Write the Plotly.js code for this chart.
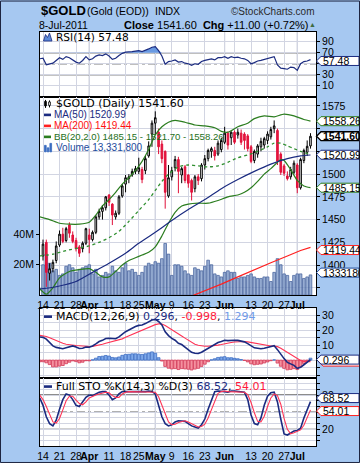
<!DOCTYPE html>
<html>
<head>
<meta charset="utf-8">
<script src="https://cdn.plot.ly/plotly-3.0.1.min.js"></script>
<style>
html,body{margin:0;padding:0;background:#a6c8f1;overflow:hidden;}
#chart{width:360px;height:463px;}
</style>
</head>
<body>
<div id="chart"></div>
<script>
// ---------- DATA ----------
const dates = ['2011-03-11','2011-03-14','2011-03-15','2011-03-16','2011-03-17','2011-03-18','2011-03-21','2011-03-22','2011-03-23','2011-03-24','2011-03-25','2011-03-28','2011-03-29','2011-03-30','2011-03-31',
'2011-04-01','2011-04-04','2011-04-05','2011-04-06','2011-04-07','2011-04-08','2011-04-11','2011-04-12','2011-04-13','2011-04-14','2011-04-15','2011-04-18','2011-04-19','2011-04-20','2011-04-21','2011-04-25','2011-04-26','2011-04-27','2011-04-28','2011-04-29',
'2011-05-02','2011-05-03','2011-05-04','2011-05-05','2011-05-06','2011-05-09','2011-05-10','2011-05-11','2011-05-12','2011-05-13','2011-05-16','2011-05-17','2011-05-18','2011-05-19','2011-05-20','2011-05-23','2011-05-24','2011-05-25','2011-05-26','2011-05-27','2011-05-31',
'2011-06-01','2011-06-02','2011-06-03','2011-06-06','2011-06-07','2011-06-08','2011-06-09','2011-06-10','2011-06-13','2011-06-14','2011-06-15','2011-06-16','2011-06-17','2011-06-20','2011-06-21','2011-06-22','2011-06-23','2011-06-24','2011-06-27','2011-06-28','2011-06-29','2011-06-30',
'2011-07-01','2011-07-05','2011-07-06','2011-07-07','2011-07-08'];
const candleDates = dates.slice(1);

const openP = [1410,1425,1391,1396,1405,1422,1434,1427,1444,1433,
1427,1420,1418,1424,1433,1428,1436,1453,1459,1463,
1477,1467,1453,1457,1476,1489,1495,1499,1503,1503,
1505,1504,1520,1544,1556,1546,1533,1525,1476,1497,
1507,1516,1499,1508,1499,1493,1484,1497,1495,1510,
1517,1525,1526,1522,1527,1535,1545,1540,1546,1543,
1545,1544,1542,1530,1515,1522,1530,1532,1537,1541,
1550,1548,1522,1509,1498,1497,1502,1510,1485,1515,
1524,1531];
const highP = [1428,1428,1402,1406,1426,1438,1441,1442,1447,1437,
1430,1422,1426,1441,1440,1438,1455,1462,1466,1476,
1478,1468,1460,1477,1489,1499,1500,1506,1509,1518,
1508,1520,1536,1559,1569,1550,1537,1526,1510,1508,
1520,1519,1508,1510,1500,1495,1499,1500,1512,1521,
1528,1530,1530,1537,1540,1552,1547,1547,1548,1550,
1549,1546,1544,1532,1527,1533,1540,1541,1547,1552,
1559,1550,1524,1511,1503,1508,1515,1512,1518,1528,
1537,1545];
const lowP = [1405,1376,1383,1392,1402,1420,1424,1425,1430,1424,
1415,1409,1414,1422,1413,1426,1434,1450,1450,1460,
1465,1444,1450,1455,1474,1480,1490,1497,1500,1500,
1490,1500,1518,1530,1543,1522,1512,1462,1474,1493,
1503,1479,1490,1490,1485,1471,1480,1488,1492,1505,
1514,1518,1515,1520,1524,1533,1527,1532,1533,1539,
1532,1527,1525,1512,1512,1518,1525,1528,1533,1538,
1545,1510,1499,1498,1493,1494,1500,1479,1483,1512,
1520,1528];
const closeP = [1423,1392,1396,1403,1421,1434,1426,1440,1435,1426,
1418,1413,1424,1440,1428,1436,1453,1459,1463,1475,
1469,1455,1457,1475,1487,1496,1497,1503,1506,1507,
1494,1517,1531,1556,1562,1530,1517,1480,1496,1504,
1516,1503,1506,1493,1490,1480,1497,1493,1510,1517,
1526,1528,1520,1534,1537,1545,1532,1546,1535,1546,
1535,1537,1528,1514,1525,1531,1536,1539,1544,1549,
1553,1514,1502,1501,1495,1505,1512,1485,1516,1526,
1530.6,1541.6];
const volumeM = [20,27,21,16,17,13,14,19,20,18,
15,17,18,19,20,14,17,12,13,15,
14,19,16,15,18,21,16,17,15,13,
15,19,21,20,22,21,24,34,27,13,
20,20,19,16,14,13,18,17,16,19,
23,20,14,13,12,15,16,15,15,11,
12,12,13,14,12,11,11,12,12,9,
15,24,20,14,13,9,13,14,14,11,
12,13.3318];

const ma50Dates = ['2011-03-11','2011-03-14','2011-03-21','2011-03-28','2011-04-01','2011-04-11','2011-04-18','2011-04-25','2011-05-02','2011-05-09','2011-05-16','2011-05-23','2011-05-31','2011-06-07','2011-06-14','2011-06-21','2011-06-28','2011-07-05','2011-07-08'];
const ma50 = [1374,1374,1377,1382,1390,1402,1413,1424,1436,1449,1461,1472,1484,1494,1503,1511,1517,1520,1520.99];
const ma200Dates = ['2011-05-17','2011-05-23','2011-05-31','2011-06-07','2011-06-14','2011-06-21','2011-06-28','2011-07-05','2011-07-08'];
const ma200 = [1366,1371.5,1379,1387,1395,1402.5,1410,1416,1419.44];
const bbUpperDates = ['2011-03-11','2011-03-16','2011-03-21','2011-03-24','2011-03-29','2011-04-01','2011-04-05','2011-04-07','2011-04-11','2011-04-13','2011-04-15','2011-04-19','2011-04-21','2011-04-26','2011-04-28','2011-05-02','2011-05-04','2011-05-06','2011-05-10','2011-05-13','2011-05-18','2011-05-23','2011-05-26','2011-05-31','2011-06-02','2011-06-07','2011-06-10','2011-06-14','2011-06-17','2011-06-22','2011-06-27','2011-06-30','2011-07-06','2011-07-08'];
const bbUpper = [1453,1450,1446,1445,1445,1447,1455,1465,1472,1480,1489,1496,1504,1514,1527,1543,1552,1557,1559,1557,1554,1553,1551,1547,1546,1552,1556,1561,1564,1563,1566,1564,1560,1558.26];
const bbLowerDates = ['2011-03-11','2011-03-15','2011-03-17','2011-03-21','2011-03-24','2011-03-29','2011-04-01','2011-04-05','2011-04-07','2011-04-11','2011-04-13','2011-04-15','2011-04-19','2011-04-21','2011-04-26','2011-04-28','2011-05-02','2011-05-04','2011-05-06','2011-05-10','2011-05-12','2011-05-16','2011-05-19','2011-05-24','2011-05-27','2011-06-02','2011-06-07','2011-06-09','2011-06-13','2011-06-15','2011-06-17','2011-06-21','2011-06-23','2011-06-24','2011-06-27','2011-06-29','2011-07-01','2011-07-06','2011-07-08'];
const bbLower = [1374,1368,1375,1386,1393,1395,1396,1392,1387,1387,1393,1400,1405,1408,1411,1414,1420,1432,1446,1458,1465,1467,1468,1468,1471,1475,1477,1480,1485,1492,1500,1506,1513,1516,1515,1505,1493,1487,1485.15];
const bbMidDates = ['2011-03-11','2011-03-17','2011-03-23','2011-03-29','2011-04-01','2011-04-06','2011-04-11','2011-04-14','2011-04-19','2011-04-25','2011-04-28','2011-05-02','2011-05-04','2011-05-06','2011-05-11','2011-05-16','2011-05-19','2011-05-24','2011-05-27','2011-06-02','2011-06-07','2011-06-10','2011-06-15','2011-06-20','2011-06-22','2011-06-24','2011-06-28','2011-06-30','2011-07-05','2011-07-08'];
const bbMid = [1410,1412,1416,1419,1421,1425,1430,1437,1448,1460,1472,1482,1492,1500,1508,1510,1509,1508,1509,1513,1518,1521,1525,1530,1534,1534,1531,1528,1525,1521.7];

const rsi = [59,60,48,49,51,56,61,58,63,61,
57,53,51,56,63,57,59,64,66,65,
68,64,58,60,65,69,71,71,72,73,
74,72,74,77,80,81,74,64,49,54,
55,57,53,54,51,50,47,50,49,54,
56,58,59,57,61,61,63,60,63,61,
62,60,59,56,50,52,55,56,58,59,
61,63,48,42,41,40,44,43,38,50,
54,55,57.48];
const macd = [15.5,15.2,14,12,9.5,8.5,8,7.6,8.2,8.8,
9.5,8.8,7.8,7.9,8.8,8.6,9.4,10.8,12.4,13.2,
14.4,14.6,14.2,14.3,15.5,17.4,19,20.1,21.4,22.4,
23.2,23.5,24.4,25.4,26.8,27.2,25.8,23.5,18.9,16.4,
14.5,13.3,11.2,10.4,8.8,7.2,5.2,4.6,4.4,5.3,
6.6,8.2,9.6,10.5,11.8,12.5,13.3,13,13.4,13.3,
13.2,12.8,12.2,11,9.3,8.2,7.9,7.6,7.9,8.3,
9,9.6,7,3.8,1,-1.5,-2.6,-3.5,-5.5,-4.8,
-3.1,-1.3,0.296];
const macdSignal = [16.6,16.3,15.8,15,14,13,12,11.2,10.6,10.2,
10,9.8,9.6,9.3,9.2,9.1,9.2,9.5,10,10.6,
11.3,11.9,12.4,12.8,13.4,14.2,15.2,16.2,17.2,18.2,
19.2,20,20.9,21.8,22.8,23.7,24.2,24.1,23.1,21.8,
20.4,19,17.5,16.1,14.7,13.3,11.8,10.6,9.9,9.5,
9.3,9.3,9.4,9.6,10,10.4,11,11.4,11.8,12.1,
12.3,12.4,12.4,12.2,11.8,11.3,10.7,10.2,9.8,9.5,
9.4,9.4,9,7.9,6.5,5,3.6,2.2,0.8,-0.3,
-0.9,-1.1,-0.998];
const macdHist = [-1.1,-1.1,-1.8,-3,-4.5,-4.5,-4,-3.6,-2.4,-1.4,
-0.5,-1,-1.8,-1.4,-0.4,-0.5,0.2,1.3,2.4,2.6,
3.1,2.7,1.8,1.5,2.1,3.2,3.8,3.9,4.2,4.2,
4,3.8,4.2,4.8,5.5,4.6,1.6,-0.6,-4.2,-5.4,
-5.9,-5.7,-6.3,-5.7,-5.9,-6.1,-6.6,-6,-5.5,-4.2,
-2.7,-1.1,0.2,0.9,1.8,2.1,2.3,1.6,1.6,1.2,
0.9,0.4,-0.2,-1.2,-2.5,-3.1,-2.8,-2.6,-1.9,-1.2,
-0.4,0.2,-2,-4.1,-5.5,-6.5,-6.2,-5.7,-6.3,-4.5,
-2.2,-0.2,1.294];
const stoK = [75,62,42,30,26,36,55,72,82,80,
72,62,60,68,76,80,79,82,85,86,
86,80,72,75,82,86,86,85,85,86,
86,86,86,87,86,82,62,42,30,26,
28,33,35,35,34,30,26,24,22,28,
38,55,72,86,87,87,86,85,87,87,
86,86,85,72,45,30,28,40,62,78,
84,85,68,38,12,10,14,17,18,22,
40,56,68.52];
const stoD = [80,72,60,45,33,31,39,54,70,78,
78,71,65,63,68,75,78,80,82,84,
85,84,79,76,76,82,85,86,86,85,
86,86,86,86,86,85,77,62,45,33,
28,29,32,34,35,33,30,27,24,25,
29,40,55,71,83,86,87,86,86,86,
86,86,85,81,67,49,34,33,43,60,
75,82,79,64,39,20,12,14,16,19,
27,39,54.01];

const tickDates = ['2011-03-14','2011-03-21','2011-03-28','2011-04-01','2011-04-11','2011-04-18','2011-04-25','2011-05-02','2011-05-09','2011-05-16','2011-05-23','2011-06-01','2011-06-06','2011-06-13','2011-06-20','2011-06-27','2011-07-01'];
const tickLabels = ['14','21','28','<b>Apr</b>','11','18','25','<b>May</b>','9','16','23','<b>Jun</b>','','13','20','27','<b>Jul</b>'];
const monthDates = ['2011-04-01','2011-05-02','2011-06-01','2011-07-01'];
const priceTicks = [1375,1400,1425,1450,1475,1500,1525,1550,1575];
const priceTickText = ['','1400','1425','1450','1475','1500','','','1575'];

// ---------- LAYOUT HELPERS ----------
const L=40, R=316, T=31.5, B=446;
const PX = x => (x-L)/(R-L);
const PY = y => (B-y)/(B-T);
const FONT = 'Liberation Sans, Arial, sans-serif';
const TFONT = 'DejaVu Sans, Verdana, sans-serif';
const NAVY='#1b2b80', GREEN='#2b7d1f', GRID='#d2d5e2', MGRID='#a3a8bc', VOLC='#1c4a9c';
const XR=[0.09,83.67];
const ranges = {rsi:[-11.3,107.8], price:[1366.9,1584.3], vol:[0,130], macd:[-12.2,34.7], sto:[-9.2,109.2]};
const D = {rsi:[PY(97),1], price:[PY(295),PY(97)], macd:[PY(378.3),PY(308)], sto:[0,PY(378.3)]};

function xax(anchor, labels){
  return {type:'category', categoryorder:'array', categoryarray:dates, range:XR, anchor:anchor,
    rangeslider:{visible:false},
    tickmode:'array', tickvals:tickDates, ticktext:tickLabels, showticklabels:labels, tickangle:0,
    tickfont:{size:10.5,color:'#000',family:FONT}, ticks:'', showgrid:true, gridcolor:GRID, gridwidth:1,
    showline:true, mirror:true, linecolor:'#000', linewidth:1, zeroline:false, fixedrange:true};
}
function yax(domain, range, extra){
  const o = {range:range, side:'right', showgrid:true, gridcolor:GRID, gridwidth:1,
    ticks:'outside', ticklen:3, tickcolor:'#000', tickfont:{size:10.5,color:'#000',family:FONT},
    showline:true, mirror:true, linecolor:'#000', linewidth:1, zeroline:false, fixedrange:true};
  if(domain) o.domain = domain;
  return Object.assign(o, extra||{});
}

// xy = RSI, x2y2 = volume (base), x2y5 = price (overlay), x3y3 = MACD, x4y4 = STO
const traces = [];
traces.push({x:dates, y:rsi.map(()=>70), xaxis:'x', yaxis:'y', mode:'lines', line:{width:0}, hoverinfo:'skip'});
traces.push({x:dates, y:rsi.map(v=>Math.max(v,70)), xaxis:'x', yaxis:'y', mode:'lines', line:{width:0}, fill:'tonexty', fillcolor:'#6a9ae2'});
traces.push({x:dates, y:rsi, xaxis:'x', yaxis:'y', mode:'lines', line:{color:NAVY,width:1.2}});
traces.push({type:'bar', x:candleDates, y:volumeM, xaxis:'x2', yaxis:'y2', width:0.8,
  marker:{color:'rgba(122,150,198,0.75)', line:{color:'rgba(72,100,158,0.95)', width:0.8}}});
traces.push({x:bbUpperDates, y:bbUpper, xaxis:'x2', yaxis:'y5', mode:'lines', line:{color:GREEN,width:1.2,shape:'spline',smoothing:0.6}});
traces.push({x:bbLowerDates, y:bbLower, xaxis:'x2', yaxis:'y5', mode:'lines', line:{color:GREEN,width:1.2,shape:'spline',smoothing:0.6}});
traces.push({x:bbMidDates, y:bbMid, xaxis:'x2', yaxis:'y5', mode:'lines', line:{color:'#2f8f2f',width:1.3,dash:'dot',shape:'spline',smoothing:0.6}});
traces.push({x:ma200Dates, y:ma200, xaxis:'x2', yaxis:'y5', mode:'lines', line:{color:'#ff2020',width:1.2}});
traces.push({x:ma50Dates, y:ma50, xaxis:'x2', yaxis:'y5', mode:'lines', line:{color:NAVY,width:1.2,shape:'spline',smoothing:0.6}});
traces.push({type:'candlestick', x:candleDates, open:openP, high:highP, low:lowP, close:closeP, xaxis:'x2', yaxis:'y5',
  whiskerwidth:0, increasing:{line:{color:'#000',width:1}, fillcolor:'#ffffff'},
  decreasing:{line:{color:'#e0103a',width:1}, fillcolor:'#e8173f'}});
traces.push({type:'bar', x:dates, y:macdHist, xaxis:'x3', yaxis:'y3', width:0.85,
  marker:{color:macdHist.map(v=>v>=0?'#7ea9ea':'#f4919f'), line:{color:macdHist.map(v=>v>=0?'#3f6fc4':'#d33a58'), width:0.8}}});
traces.push({x:dates, y:macdSignal, xaxis:'x3', yaxis:'y3', mode:'lines', line:{color:'#ff3355',width:1.1}});
traces.push({x:dates, y:macd, xaxis:'x3', yaxis:'y3', mode:'lines', line:{color:NAVY,width:1.6}});
traces.push({x:dates, y:stoK, xaxis:'x4', yaxis:'y4', mode:'lines', line:{color:NAVY,width:1.6}});
traces.push({x:dates, y:stoD, xaxis:'x4', yaxis:'y4', mode:'lines', line:{color:'#ff3355',width:1.1}});

// ---------- SHAPES ----------
const shapes = [];
const panels = [['x','y',ranges.rsi],['x2','y2',ranges.vol],['x3','y3',ranges.macd],['x4','y4',ranges.sto]];
panels.forEach(p=>{
  monthDates.forEach(d=>{
    const i = dates.indexOf(d);
    shapes.push({type:'line', xref:p[0], yref:p[1], x0:i, x1:i, y0:p[2][0], y1:p[2][1], line:{color:MGRID,width:1}, layer:'below'});
  });
});
function hline(xr, yr, v, dash){ shapes.push({type:'line', xref:xr, yref:yr, x0:XR[0], x1:XR[1], y0:v, y1:v, line:{color:'#000',width:1,dash:dash||'solid'}, layer:'below'}); }
hline('x','y',70); hline('x','y',30); hline('x','y',50,'dashdot');
hline('x4','y4',80); hline('x4','y4',20); hline('x4','y4',50,'dashdot');

function tag(y, color, lw, dx){
  dx = dx||0; const tip=316.5+dx, x1=321+dx, x2=359+dx, h=4.5;
  shapes.push({type:'path', xref:'paper', yref:'paper', layer:'above',
    path:`M ${PX(tip)} ${PY(y)} L ${PX(x1)} ${PY(y-h)} L ${PX(x2)} ${PY(y-h)} L ${PX(x2)} ${PY(y+h)} L ${PX(x1)} ${PY(y+h)} Z`,
    fillcolor:'#ffffff', line:{color:color,width:lw||1}});
}
function mark(x0,x1,y,color){ shapes.push({type:'line', xref:'paper', yref:'paper', x0:PX(x0), x1:PX(x1), y0:PY(y), y1:PY(y), line:{color:color,width:2.6}, layer:'above'}); }
function rect(x0,y0,x1,y1,fill,lc){ shapes.push({type:'rect', xref:'paper', yref:'paper', x0:PX(x0), x1:PX(x1), y0:PY(y0), y1:PY(y1), fillcolor:fill, line:{color:lc||fill,width:0.8}, layer:'above'}); }

mark(44,51,114.5,NAVY); mark(44,51,125.5,'#ff2020'); mark(44,51,136.5,GREEN);
mark(44,52,316.5,NAVY); mark(44,52,386.5,NAVY);
rect(44.5,145,46.2,151.5,'#3a6cc0'); rect(47.2,147.5,48.9,151.5,'#3a6cc0'); rect(49.9,143,51.6,151.5,'#3a6cc0');
shapes.push({type:'line',xref:'paper',yref:'paper',x0:PX(45.5),x1:PX(45.5),y0:PY(99.5),y1:PY(107.5),line:{color:'#000',width:1},layer:'above'});
rect(44.6,101,46.4,105.5,'#000');
shapes.push({type:'line',xref:'paper',yref:'paper',x0:PX(49.5),x1:PX(49.5),y0:PY(100),y1:PY(107),line:{color:'#000',width:1},layer:'above'});
rect(48.6,101.5,50.4,105,'#fff','#000');
shapes.push({type:'path', xref:'paper', yref:'paper', layer:'above', path:`M ${PX(43.5)} ${PY(40.5)} L ${PX(45.5)} ${PY(34)} L ${PX(47.5)} ${PY(37)} L ${PX(49.5)} ${PY(32.5)} L ${PX(52)} ${PY(40.5)} Z`, fillcolor:'#5c8ad8', line:{color:NAVY,width:0.8}});

tag(60.5,NAVY);
tag(120.8,GREEN); tag(135.8,'#000',1.4); tag(154.4,NAVY); tag(187.4,GREEN); tag(249.8,'#ff2020'); tag(272.4,VOLC);
tag(361.5,'#ff2020',1,2); tag(359.5,NAVY);
tag(398,NAVY); tag(411,'#ff2020');
shapes.push({type:'rect', xref:'paper', yref:'paper', x0:PX(0.5), x1:PX(359.5), y0:PY(0.5), y1:PY(462.5), line:{color:'#1d2440',width:1}, fillcolor:'rgba(0,0,0,0)', layer:'above'});

// ---------- ANNOTATIONS ----------
const ann = [];
function txt(x,y,text,size,color,anchor,fam){
  ann.push({xref:'paper', yref:'paper', x:PX(x), y:PY(y), text:text, showarrow:false,
    xanchor:anchor||'left', yanchor:'middle', font:{family:fam||FONT,size:size,color:color||'#000'}, borderpad:0});
}
txt(39.5,9.5,'<b>$GOLD</b>',13);
txt(86,10.5,'(Gold (EOD))',10.5);
txt(154,10.5,'INDX',10.5);
txt(315.5,10.5,'©StockCharts.com',10,'#2a2a2a','right');
txt(38,24,'8-Jul-2011',10.5);
txt(123,24,'<b>Close</b> 1541.60  <b>Chg</b> +11.00 (+0.72%)',11);
txt(312,24,'▲',7,'#3f6a3f','center');

txt(54.5,36.5,'RSI(14) 57.48',10.6,'#000','left',TFONT);
txt(54.5,103.5,'$GOLD (Daily) 1541.60',11,'#000','left',TFONT);
txt(53,114.5,'MA(50) 1520.99',10,NAVY);
txt(53,125.5,'MA(200) 1419.44',10,'#ff1010');
txt(53,136.5,'BB(20,2.0) 1485.15 - 1521.70 - 1558.26',9.6,'#24701a');
txt(54.5,147.5,'Volume 13,331,800',10,VOLC);
txt(54.5,316.5,'MACD(12,26,9) <span style="color:#1b2b80">0.296</span>, <span style="color:#ff1a3c">-0.998</span>, <span style="color:#6f9ae8">1.294</span>',11,'#000','left',TFONT);
txt(54.5,386,'Full STO %K(14,3) %D(3) <span style="color:#1b2b80">68.52</span>, <span style="color:#ff1a3c">54.01</span>',11,'#000','left',TFONT);

txt(322,60.5,'57.48',10.5);
txt(322,120.8,'1558.26',10.5);
txt(322,135.8,'<b>1541.60</b>',10.5);
txt(322,154.4,'1520.99',10.5);
txt(322,187.4,'1485.15',10.5);
txt(322,249.8,'1419.44',10.5);
txt(322,272.4,'1333180',10.5);
txt(322,359.5,'0.296',10.5);
txt(322,398,'68.52',10.5);
txt(322,411,'54.01',10.5);

const layout = {
  width:360, height:463, margin:{l:L, r:360-R, t:T, b:463-B, pad:0},
  paper_bgcolor:'#a6c8f1', plot_bgcolor:'#ffffff', showlegend:false, hovermode:false, dragmode:false,
  font:{family:FONT,size:10.5,color:'#000'}, bargap:0,
  xaxis:xax('y',false), xaxis2:xax('y2',true), xaxis3:xax('y3',false), xaxis4:xax('y4',true),
  yaxis:yax(D.rsi, ranges.rsi, {anchor:'x', tickmode:'array', tickvals:[10,30,50,70,90], ticktext:['10','30','','70','90']}),
  yaxis2:yax(D.price, ranges.vol, {side:'left', anchor:'x2', tickmode:'array', tickvals:[20,40], ticktext:['20M','40M'], showgrid:false}),
  yaxis3:yax(D.macd, ranges.macd, {anchor:'x3', tickmode:'array', tickvals:[-10,-5,0,5,10,15,20,25,30], ticktext:['','','','','10','','20','','30']}),
  yaxis4:yax(D.sto, ranges.sto, {anchor:'x4', tickmode:'array', tickvals:[0,10,20,30,40,50,60,70,80,90,100], ticktext:['','','20','','','','','','80','','']}),
  yaxis5:yax(null, ranges.price, {overlaying:'y2', anchor:'x2', tickmode:'array', tickvals:priceTicks, ticktext:priceTickText, showline:false}),
  shapes:shapes, annotations:ann
};
Plotly.newPlot('chart', traces, layout, {staticPlot:true, displayModeBar:false});
</script>
</body>
</html>
